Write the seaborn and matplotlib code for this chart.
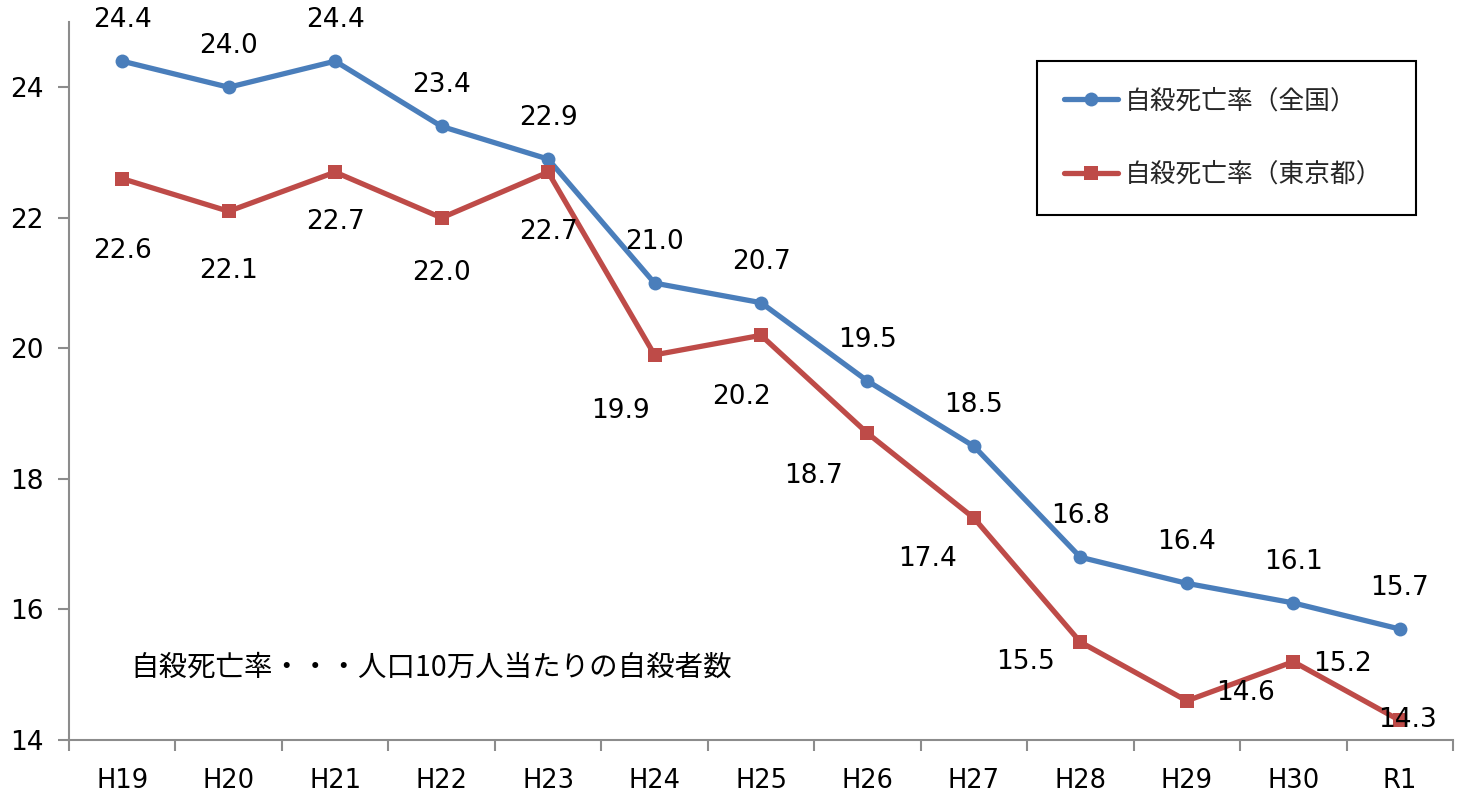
import matplotlib
matplotlib.use("Agg")
import matplotlib.pyplot as plt
import seaborn as sns
import numpy as np
import pandas as pd

years = ["H19", "H20", "H21", "H22", "H23", "H24", "H25", "H26", "H27", "H28", "H29", "H30", "R1"]
national = [24.4, 24.0, 24.4, 23.4, 22.9, 21.0, 20.7, 19.5, 18.5, 16.8, 16.4, 16.1, 15.7]
tokyo = [22.6, 22.1, 22.7, 22.0, 22.7, 19.9, 20.2, 18.7, 17.4, 15.5, 14.6, 15.2, 14.3]
name_national = "自殺死亡率（全国）"
name_tokyo = "自殺死亡率（東京都）"
note = "自殺死亡率・・・人口10万人当たりの自殺者数"

# label offsets in pixels (dx, dy; dy positive = up)
off_nat = [(0, 41)] * 13
off_tok = [(0, -72), (0, -60), (0, -50), (0, -55), (0, -60), (-34, -56), (-20, -62),
           (-54, -43), (-46, -41), (-55, -20), (59, 8), (49, -2), (8, 0)]

sns.set_theme(style="white")
plt.rcParams["font.family"] = ["DejaVu Sans", "Noto Sans CJK JP"]

df = pd.DataFrame({
    "year": years * 2,
    "value": national + tokyo,
    "series": [name_national] * 13 + [name_tokyo] * 13,
})

blue = "#4A7EBB"
red = "#BE4B48"

fig = plt.figure(figsize=(14.69, 7.94), dpi=100)
ax = fig.add_axes([69 / 1469, 1 - 740 / 794, (1453 - 69) / 1469, (740 - 22) / 794])

sns.lineplot(data=df, x="year", y="value", hue="series", style="series",
             palette={name_national: blue, name_tokyo: red},
             markers={name_national: "o", name_tokyo: "s"}, dashes=False,
             linewidth=3.8, markersize=10, markeredgewidth=0, ax=ax, legend=True)

ax.set_xlim(-0.5, 12.5)
ax.set_ylim(14, 25)
ax.set_yticks([14, 16, 18, 20, 22, 24])
ax.set_xlabel("")
ax.set_ylabel("")

for s in ["top", "right"]:
    ax.spines[s].set_visible(False)
for s in ["left", "bottom"]:
    ax.spines[s].set_color("#8C8C8C")
    ax.spines[s].set_linewidth(1.5)

ax.set_xticks(np.arange(len(years)))
ax.set_xticklabels(years)
ax.set_xticks(np.arange(-0.5, 13, 1), minor=True)
ax.tick_params(axis="x", which="major", length=0, pad=20, labelsize=18.5, labelcolor="black")
ax.tick_params(axis="x", which="minor", length=8, width=1.5, color="#8C8C8C", direction="out", bottom=True)
ax.tick_params(axis="y", length=8, width=1.5, color="#8C8C8C", direction="out", left=True,
               labelsize=19, labelcolor="black", pad=10)

px = 0.72
for i in range(len(years)):
    ax.annotate(f"{national[i]:.1f}", (i, national[i]),
                xytext=(off_nat[i][0] * px, off_nat[i][1] * px), textcoords="offset points",
                ha="center", va="center", fontsize=19, color="black")
    ax.annotate(f"{tokyo[i]:.1f}", (i, tokyo[i]),
                xytext=(off_tok[i][0] * px, off_tok[i][1] * px), textcoords="offset points",
                ha="center", va="center", fontsize=19, color="black")

ax.text(130 / 1469, 1 - 668 / 794, note, transform=fig.transFigure, ha="left", va="center",
        fontsize=20.5, family=["Noto Sans CJK JP", "DejaVu Sans"], color="black")

handles, labels = ax.get_legend_handles_labels()
leg = ax.legend(handles, labels, loc="center left",
                bbox_to_anchor=(1037 / 1469, 1 - 213 / 794, (1416 - 1037) / 1469, (213 - 63) / 794),
                bbox_transform=fig.transFigure, mode="expand",
                prop={"family": ["Noto Sans CJK JP", "DejaVu Sans"], "size": 18.5},
                frameon=True, fancybox=False, edgecolor="black", framealpha=1,
                borderpad=1.05, labelspacing=1.85, handlelength=2.1, handletextpad=0.25,
                borderaxespad=0)
leg.get_frame().set_linewidth(1.5)
for h in leg.legend_handles:
    h.set_linewidth(3.8)

fig.savefig("out.png", dpi=100)
